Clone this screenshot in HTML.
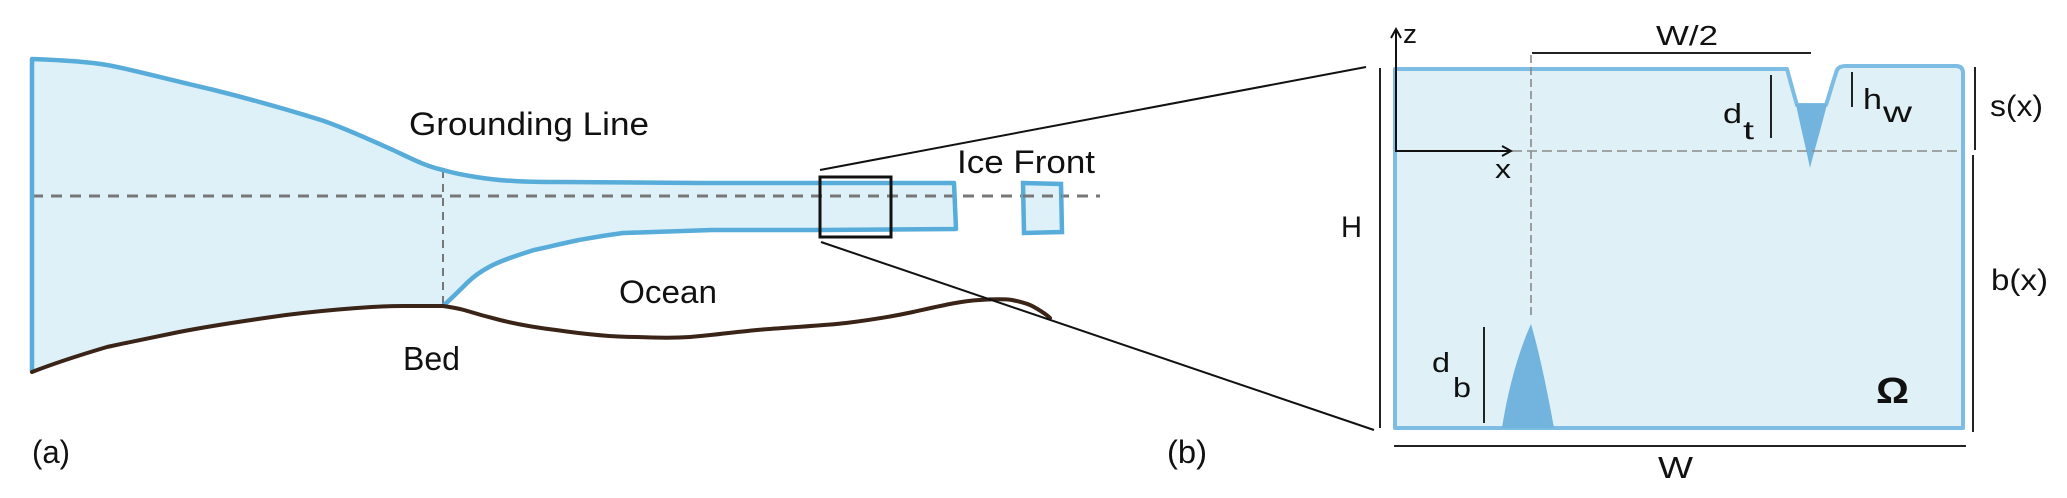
<!DOCTYPE html>
<html>
<head>
<meta charset="utf-8">
<style>
html,body{margin:0;padding:0;background:#fff;}
svg{display:block;}
text{font-family:"Liberation Sans",sans-serif;fill:#111;}
</style>
</head>
<body>
<svg width="2067" height="498" viewBox="0 0 2067 498" xmlns="http://www.w3.org/2000/svg">
  <!-- ===== Panel (a) ===== -->
  <!-- ice fill -->
  <path d="M32,59 C60,60 90,62 107,65 C130,69 150,75 214,90 C250,99 279,107 321,120 C345,128 370,140 393,150 C410,158 425,166 443,170 C460,175 490,180 514,181 C530,182 545,182 560,182 L700,183 L954,183 L956,229 L820,230 L712,230 L623,233 C600,236 590,238 579,240 C560,244 548,247 534,250 C515,256 500,261 489,267 C478,273 470,280 467,283 C460,290 452,298 443,306 L404,306 C380,306 370,307 357,308 C330,310 310,312 286,315 C250,320 210,326 179,332 C150,338 130,342 107,347 C80,355 55,363 32,372 Z" fill="#dff1f8" stroke="none"/>
  <!-- dashed centerline -->
  <line x1="32" y1="196" x2="1100" y2="196" stroke="#777" stroke-width="3" stroke-dasharray="11,8"/>
  <!-- vertical dashed at grounding line -->
  <line x1="443" y1="170" x2="443" y2="306" stroke="#777" stroke-width="2" stroke-dasharray="8,6"/>
  <!-- ice outline -->
  <path d="M32,372 L32,59 C60,60 90,62 107,65 C130,69 150,75 214,90 C250,99 279,107 321,120 C345,128 370,140 393,150 C410,158 425,166 443,170 C460,175 490,180 514,181 C530,182 545,182 560,182 L700,183 L954,183 L956,229 L820,230 L712,230 L623,233 C600,236 590,238 579,240 C560,244 548,247 534,250 C515,256 500,261 489,267 C478,273 470,280 467,283 C460,290 452,298 443,306" fill="none" stroke="#58acd9" stroke-width="4.5" stroke-linejoin="round"/>
  <!-- iceberg -->
  <path d="M1023,183 L1061,184 L1062,232 L1024,233 Z" fill="#dff1f8" stroke="#58acd9" stroke-width="4.5"/>
  <line x1="1023" y1="196" x2="1062" y2="196" stroke="#777" stroke-width="3" stroke-dasharray="11,8"/>
  <!-- bed -->
  <path d="M32,372 C55,363 80,355 107,347 C130,342 150,338 179,332 C210,326 250,320 286,315 C310,312 330,310 357,308 C370,307 380,306 404,306 L443,306 C450,307 457,308 464,310 C477,314 488,317 500,320 C520,325 540,328 556,330 C590,335 615,337 637,337 C660,338 675,338 690,337 C715,335 735,332 757,330 C790,327 820,326 846,323 C870,320 890,317 913,312 C940,306 960,301 980,300 C995,299 1005,299 1012,300 C1022,302 1029,304 1034,307 C1041,311 1046,314 1050,318" fill="none" stroke="#3a2418" stroke-width="4" stroke-linecap="round"/>
  <!-- zoom rectangle -->
  <rect x="820" y="177" width="71" height="60" fill="none" stroke="#111" stroke-width="3"/>
  <!-- zoom lines -->
  <line x1="820" y1="170" x2="1366" y2="67" stroke="#111" stroke-width="2"/>
  <line x1="821" y1="242" x2="1374" y2="430" stroke="#111" stroke-width="2"/>

  <!-- labels (a) -->
  <text x="409" y="135" font-size="32" textLength="240" lengthAdjust="spacingAndGlyphs">Grounding Line</text>
  <text x="957" y="173" font-size="32" textLength="138" lengthAdjust="spacingAndGlyphs">Ice Front</text>
  <text x="619" y="303" font-size="32" textLength="98" lengthAdjust="spacingAndGlyphs">Ocean</text>
  <text x="403" y="370" font-size="33" textLength="57" lengthAdjust="spacingAndGlyphs">Bed</text>
  <text x="32" y="463" font-size="32" textLength="38" lengthAdjust="spacingAndGlyphs">(a)</text>
  <text x="1167" y="463" font-size="32" textLength="40" lengthAdjust="spacingAndGlyphs">(b)</text>

  <!-- ===== Panel (b) ===== -->
  <!-- box -->
  <path d="M1395,69 L1787,69 C1790,80 1794,95 1797,105 L1826,105 C1830,93 1834,78 1837,70 Q1839,66 1846,66 L1956,66 Q1963,66 1963,73 L1963,428 L1395,428 Z" fill="#dff0f7" stroke="#7dbce3" stroke-width="4" stroke-linejoin="round"/>
  <!-- top notch fill -->
  <path d="M1796,104 L1827,104 C1822,125 1815,148 1810,168 C1806,148 1800,125 1796,104 Z" fill="#72b4de"/>
  <!-- bottom keel triangle -->
  <path d="M1502,428 C1507,395 1517,355 1531,324 C1540,355 1548,395 1554,428 Z" fill="#72b4de"/>
  <!-- dashed lines -->
  <line x1="1531" y1="55" x2="1531" y2="318" stroke="#8a8a8a" stroke-width="1.6" stroke-dasharray="8,4"/>
  <line x1="1512" y1="151" x2="1957" y2="151" stroke="#8a8a8a" stroke-width="1.6" stroke-dasharray="10,5"/>
  <!-- axes -->
  <line x1="1396" y1="152" x2="1396" y2="30" stroke="#111" stroke-width="2"/>
  <polyline points="1391,38 1396,29 1401,38" fill="none" stroke="#111" stroke-width="2"/>
  <line x1="1396" y1="151" x2="1510" y2="151" stroke="#111" stroke-width="2"/>
  <polyline points="1502,146 1511,151 1502,156" fill="none" stroke="#111" stroke-width="2"/>
  <!-- dimension bars -->
  <line x1="1380" y1="68" x2="1380" y2="428" stroke="#222" stroke-width="2"/>
  <line x1="1532" y1="53" x2="1811" y2="53" stroke="#222" stroke-width="2"/>
  <line x1="1771" y1="75" x2="1771" y2="138" stroke="#222" stroke-width="2"/>
  <line x1="1852" y1="72" x2="1852" y2="107" stroke="#222" stroke-width="2"/>
  <line x1="1975" y1="67" x2="1975" y2="150" stroke="#222" stroke-width="2"/>
  <line x1="1973" y1="155" x2="1973" y2="432" stroke="#222" stroke-width="2"/>
  <line x1="1484" y1="327" x2="1484" y2="423" stroke="#222" stroke-width="2"/>
  <line x1="1394" y1="446" x2="1966" y2="446" stroke="#222" stroke-width="2"/>

  <!-- labels (b) -->
  <text x="1341" y="237" font-size="30" textLength="21" lengthAdjust="spacingAndGlyphs">H</text>
  <text x="1403" y="43" font-size="27" textLength="14" lengthAdjust="spacingAndGlyphs">z</text>
  <text x="1495" y="178" font-size="27" textLength="16" lengthAdjust="spacingAndGlyphs">x</text>
  <text x="1656" y="45" font-size="28" textLength="62" lengthAdjust="spacingAndGlyphs">W/2</text>
  <text x="1723" y="123" font-size="28" textLength="19" lengthAdjust="spacingAndGlyphs">d</text>
  <text x="1743" y="139" font-size="26" textLength="11" lengthAdjust="spacingAndGlyphs">t</text>
  <text x="1863" y="109" font-size="29" textLength="19" lengthAdjust="spacingAndGlyphs">h</text>
  <text x="1883" y="122" font-size="30" textLength="29" lengthAdjust="spacingAndGlyphs">w</text>
  <text x="1990" y="116" font-size="30" textLength="53" lengthAdjust="spacingAndGlyphs">s(x)</text>
  <text x="1991" y="290" font-size="30" textLength="57" lengthAdjust="spacingAndGlyphs">b(x)</text>
  <text x="1432" y="372" font-size="28" textLength="18" lengthAdjust="spacingAndGlyphs">d</text>
  <text x="1453" y="397" font-size="28" textLength="18" lengthAdjust="spacingAndGlyphs">b</text>
  <text x="1876" y="403" font-size="36" font-weight="bold" textLength="33" lengthAdjust="spacingAndGlyphs">Ω</text>
  <text x="1658" y="478" font-size="31" textLength="35" lengthAdjust="spacingAndGlyphs">W</text>
</svg>
</body>
</html>
